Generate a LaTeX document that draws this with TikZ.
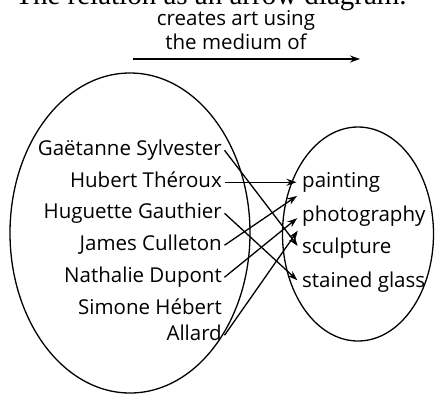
\documentclass[tikz,border=0pt]{standalone}
\usepackage{fontspec}
\setmainfont{Open Sans}
\newfontfamily\titlefont{Liberation Serif}
\usepackage{tikz}
\usetikzlibrary{arrows.meta, shapes.geometric}
\tikzset{
  settext/.style={inner sep=2.5pt, font=\fontsize{20.5}{26}\selectfont,
    text height=14pt, text depth=4.5pt},
  namebox/.style={settext, anchor=base east, align=right},
  mediumbox/.style={settext, anchor=base west, align=left},
  setoval/.style={ellipse, draw, line width=1.3pt, inner sep=0pt},
  maparrow/.style={-{Stealth[length=10pt, width=7pt]}, line width=1.3pt,
    shorten >=3pt},
  relarrow/.style={-{Stealth[length=10pt, width=7pt]}, line width=1.3pt}
}

\begin{document}
\begin{tikzpicture}[x=1pt, y=-1pt]
  \useasboundingbox (0,0) rectangle (435,394);

  % Heading and relation arrow
  \node[anchor=base, inner sep=0pt, font=\titlefont\fontsize{29}{32}\selectfont]
    (ttl) at (211,4) {The relation as an arrow diagram.};
  \node[anchor=base, align=center, inner sep=0pt, font=\fontsize{20.5}{24}\selectfont]
    (rel) at (236,49) {creates art using\\the medium of};
  \coordinate (relstart) at (133,59);
  \coordinate (relend) at (360,59);
  \draw[relarrow] (relstart) -- (relend);

  % The two sets
  \node[setoval, minimum width=240pt, minimum height=320pt] (artists) at (130,233) {};
  \node[setoval, minimum width=151pt, minimum height=214pt] (media) at (358,234) {};

  % Artists
  \node[namebox] (gae) at (224.5,155) {Gaëtanne Sylvester};
  \node[namebox] (hub) at (224.5,187) {Hubert Théroux};
  \node[namebox] (hug) at (224.5,218) {Huguette Gauthier};
  \node[namebox] (jam) at (224.5,250) {James Culleton};
  \node[namebox] (nat) at (224.5,282) {Nathalie Dupont};
  \node[namebox] (sim) at (224.5,340) {Simone Hébert\\Allard};

  % Media
  \node[mediumbox] (pai) at (299.5,187) {painting};
  \node[mediumbox] (pho) at (299.5,221) {photography};
  \node[mediumbox] (scu) at (299.5,253) {sculpture};
  \node[mediumbox] (sta) at (299.5,287) {stained glass};

  % Pairs of the relation
  \draw[maparrow] (gae.east) -- (scu.west);
  \draw[maparrow] (hub.east) -- (pai.west);
  \draw[maparrow] (hug.east) -- (sta.west);
  \draw[maparrow] (jam.east) -- (pai.south west);
  \draw[maparrow] (nat.east) -- (pho.west);
  \draw[maparrow] (sim.east) -- (pho.south west);

\end{tikzpicture}
\end{document}
